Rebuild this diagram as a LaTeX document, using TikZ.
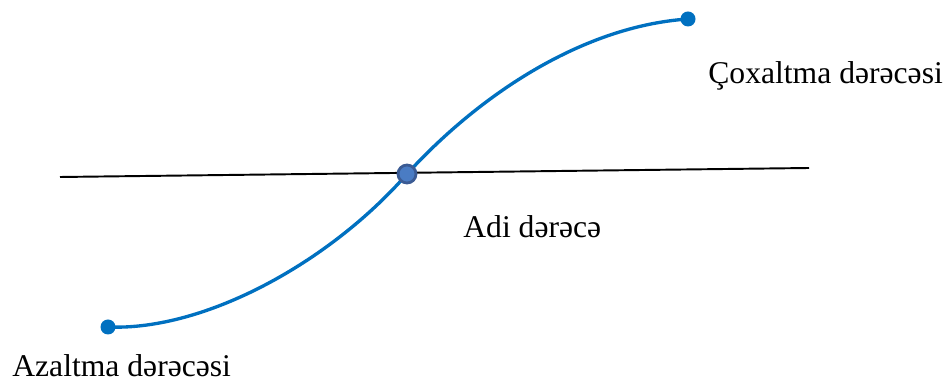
\documentclass[tikz,border=0pt]{standalone}
\usepackage{fontspec}
\setmainfont{Liberation Serif}
\usepackage{tikz}
\usetikzlibrary{calc,positioning}
\usepackage{xcolor}
\definecolor{curveblue}{HTML}{0070C0}
\definecolor{dotfill}{HTML}{4A7CC4}
\definecolor{dotring}{HTML}{3B5B94}

\begin{document}
\begin{tikzpicture}[x=0.02cm,y=-0.02cm,line join=round,font=\fontsize{18}{20}\selectfont]
  \useasboundingbox (0,0) rectangle (947,384);
  % axis line
  \coordinate (lineL) at (60,177);
  \coordinate (lineR) at (809,168);
  \draw[black,line width=1.1pt] (lineL)--(lineR);
  % curve points
  \coordinate (low) at (108,327);
  \coordinate (mid) at (407,174);
  \coordinate (high) at (688,19);
  \draw[curveblue,line width=1.9pt] (low) .. controls (205,331) and (330,262) .. (mid)
    .. controls (482,92) and (585,26) .. (high);
  \fill[curveblue] (low) circle[radius=7.5];
  \fill[curveblue] (high) circle[radius=7.5];
  \draw[dotring,fill=dotfill,line width=1.6pt] (mid) circle[radius=9];
  % labels
  \node[anchor=base west,inner sep=0pt] (coxL) at (708,84) {Çoxaltma dərəcəsi};
  \node[anchor=base west,inner sep=0pt] (adiL) at (463,238) {Adi dərəcə};
  \node[anchor=base west,inner sep=0pt] (azL) at (12,377) {Azaltma dərəcəsi};
\end{tikzpicture}
\end{document}
